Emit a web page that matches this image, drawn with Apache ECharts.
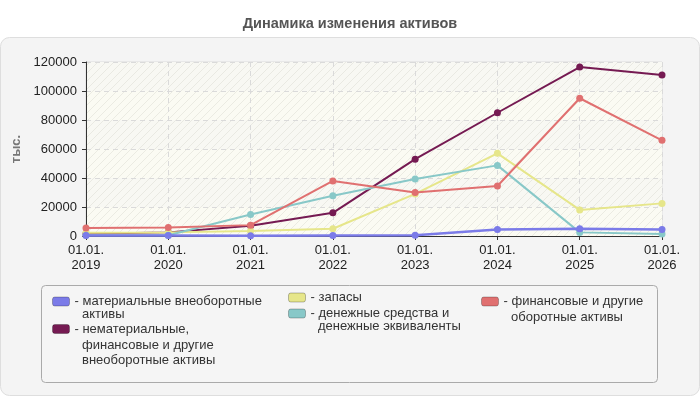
<!DOCTYPE html>
<html>
<head>
<meta charset="utf-8">
<script src="https://cdn.jsdelivr.net/npm/echarts@6/dist/echarts.min.js"></script>
<style>
  html, body { margin: 0; padding: 0; background: #fff; }
  #chart { width: 700px; height: 400px; }
</style>
</head>
<body>
<div id="chart"></div>
<script>
  // данные с графика
  const years = ['01.01.\n2019', '01.01.\n2020', '01.01.\n2021', '01.01.\n2022', '01.01.\n2023', '01.01.\n2024', '01.01.\n2025', '01.01.\n2026']
  const yTicks = [0, 20000, 40000, 60000, 80000, 100000, 120000]
  const material = [300, 300, 200, 300, 500, 4500, 5000, 4500]
  const intangible = [1500, 2500, 7000, 16000, 53000, 85000, 116500, 111000]
  const stocks = [2300, 2500, 3500, 5000, 29000, 57000, 18000, 22500]
  const cash = [500, 500, 14800, 27800, 39300, 48700, 2500, 1400]
  const finance = [5500, 5800, 7500, 38000, 30000, 34500, 95000, 66000]

  const names = [
    'материальные внеоборотные\nактивы',
    'нематериальные,\nфинансовые и другие\nвнеоборотные активы',
    'запасы',
    'денежные средства и\nденежные эквиваленты',
    'финансовые и другие\nоборотные активы'
  ]
  const colors = ['#7b7be8', '#751a52', '#e6e68a', '#88c8c8', '#e07070']

  // штриховка фона
  function hatch (bg) {
    let c = document.createElement('canvas')
    c.width = 8
    c.height = 8
    let ctx = c.getContext('2d')
    ctx.fillStyle = bg
    ctx.fillRect(0, 0, 8, 8)
    ctx.strokeStyle = 'rgba(200,200,190,0.3)'
    ctx.lineWidth = 1
    ctx.beginPath()
    ctx.moveTo(0, 8); ctx.lineTo(8, 0)
    ctx.moveTo(-4, 4); ctx.lineTo(4, -4)
    ctx.moveTo(4, 12); ctx.lineTo(12, 4)
    ctx.stroke()
    return {image: c, repeat: 'repeat'}
  }

  let chart = echarts.init(document.getElementById('chart'))

  const legendFont = '13px "Liberation Sans"'
  let legends = []
  let extraLines = []
  // пункт легенды: значок и первая строка, остальные строки — отдельным текстом
  function legendItem (idx, left, lineYs) {
    legends.push({
      orient: 'vertical', left: left, top: lineYs[0] - 7.5, padding: 0,
      itemWidth: 17, itemHeight: 9, icon: 'roundRect',
      data: [names[idx]],
      formatter: (name) => '- ' + name.split('\n')[0],
      textStyle: {fontSize: 13, color: '#333', lineHeight: 15, fontFamily: 'Liberation Sans'},
      itemStyle: {borderColor: 'rgba(0,0,0,0.25)', borderWidth: 1}
    })
    names[idx].split('\n').slice(1).forEach((line, i) => {
      extraLines.push({
        type: 'text', silent: true,
        style: {text: line, x: left + 30, y: lineYs[i + 1], font: legendFont, fill: '#333', verticalAlign: 'middle'}
      })
    })
  }
  legendItem(0, 52, [301.5, 314.5])
  legendItem(1, 52, [329, 345, 360.5])
  legendItem(2, 288, [297.5])
  legendItem(3, 288, [313.5, 326.5])
  legendItem(4, 481, [301.5, 317.5])

  chart.setOption({
    backgroundColor: '#fff',
    animation: false,
    color: colors,
    title: {
      text: 'Динамика изменения активов',
      left: 'center',
      top: 11,
      textStyle: {fontSize: 14.5, fontWeight: 'bold', color: '#555', fontFamily: 'Liberation Sans'}
    },
    graphic: [
      {
        type: 'rect', z: -10, silent: true,
        shape: {x: 0.5, y: 37.5, width: 699, height: 358, r: 9},
        style: {fill: '#f4f4f4', stroke: '#dedede', lineWidth: 1}
      },
      {
        type: 'rect', z: -9, silent: true,
        shape: {x: 41.5, y: 285.5, width: 616, height: 97, r: 4},
        style: {fill: '#f5f5f5', stroke: '#aaa', lineWidth: 1}
      }
    ].concat(extraLines),
    legend: legends,
    grid: {left: 86, right: 38, top: 62, bottom: 164, show: true, borderColor: '#ddd', borderWidth: 1, backgroundColor: '#fbfbf4'},
    xAxis: {
      type: 'category',
      boundaryGap: false,
      data: years,
      axisLine: {lineStyle: {color: '#333', width: 1}},
      axisTick: {show: true, lineStyle: {color: '#333'}, length: 4},
      axisLabel: {color: '#222', fontSize: 13, lineHeight: 15, margin: 7, fontFamily: 'Liberation Sans'},
      splitLine: {show: true, lineStyle: {color: '#dadada', type: [5, 4]}}
    },
    yAxis: {
      type: 'value',
      min: yTicks[0],
      max: yTicks[yTicks.length - 1],
      interval: yTicks[1] - yTicks[0],
      name: 'тыс.',
      nameLocation: 'middle',
      nameRotate: 90,
      nameGap: 58,
      nameTextStyle: {color: '#777', fontSize: 13, fontWeight: 'bold', fontFamily: 'Liberation Sans'},
      axisLine: {show: true, lineStyle: {color: '#333', width: 1}},
      axisTick: {show: true, lineStyle: {color: '#333'}, length: 4},
      axisLabel: {color: '#222', fontSize: 13, margin: 9, fontFamily: 'Liberation Sans', formatter: (v) => String(v)},
      splitLine: {show: true, lineStyle: {color: '#dadada', type: [5, 4]}},
      splitArea: {show: true, areaStyle: {color: [hatch('#fbfbf3'), hatch('#f8f8f3')]}}
    },
    series: [
      {name: names[0], type: 'line', data: material, symbol: 'circle', symbolSize: 7, lineStyle: {width: 2.5}, z: 6},
      {name: names[1], type: 'line', data: intangible, symbol: 'circle', symbolSize: 7, lineStyle: {width: 2}, z: 2},
      {name: names[2], type: 'line', data: stocks, symbol: 'circle', symbolSize: 7, lineStyle: {width: 2}, z: 3},
      {name: names[3], type: 'line', data: cash, symbol: 'circle', symbolSize: 7, lineStyle: {width: 2}, z: 4},
      {name: names[4], type: 'line', data: finance, symbol: 'circle', symbolSize: 7, lineStyle: {width: 2}, z: 5}
    ]
  })
</script>
</body>
</html>
